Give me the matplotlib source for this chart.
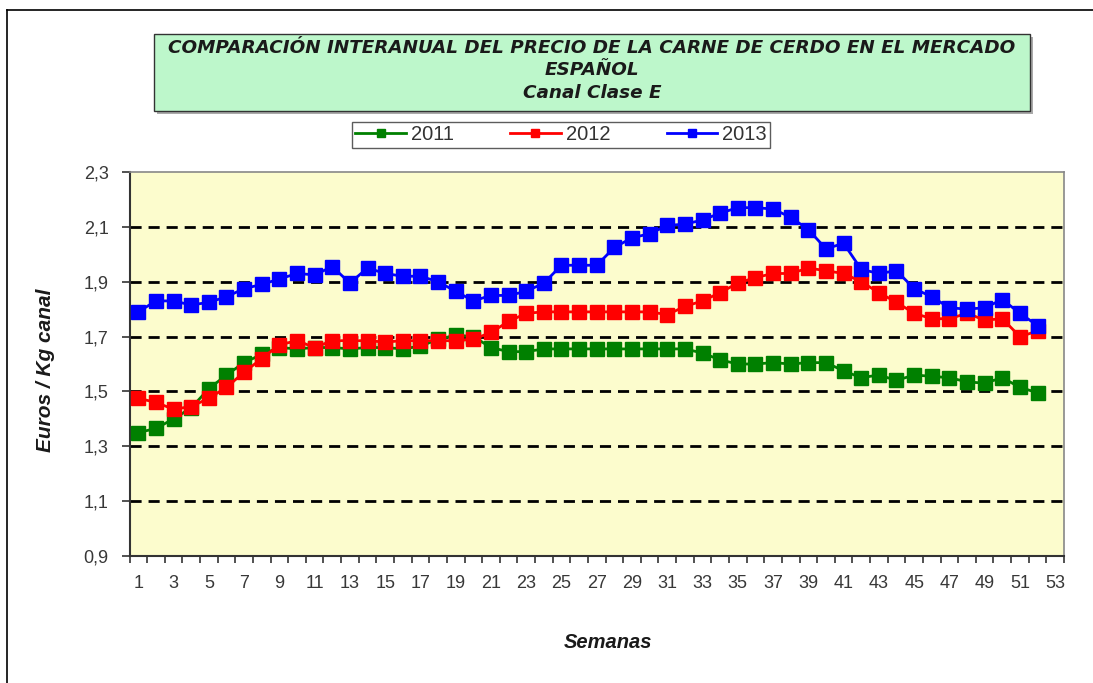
import matplotlib
matplotlib.use("Agg")
import matplotlib.pyplot as plt
from matplotlib.patches import Rectangle
from matplotlib.lines import Line2D

weeks = list(range(1, 53))
y2011 = [1.35, 1.365, 1.40, 1.44, 1.51, 1.56, 1.605, 1.635, 1.66, 1.655,
         1.66, 1.66, 1.655, 1.66, 1.66, 1.655, 1.665, 1.69, 1.705, 1.70,
         1.66, 1.645, 1.645, 1.655, 1.655, 1.655, 1.655, 1.655, 1.655, 1.655,
         1.655, 1.655, 1.64, 1.615, 1.60, 1.60, 1.605, 1.60, 1.605, 1.605,
         1.575, 1.55, 1.56, 1.54, 1.56, 1.555, 1.55, 1.535, 1.53, 1.55,
         1.515, 1.495]
y2012 = [1.475, 1.46, 1.435, 1.445, 1.475, 1.515, 1.57, 1.62, 1.67, 1.685,
         1.66, 1.685, 1.685, 1.685, 1.68, 1.685, 1.685, 1.685, 1.685, 1.69,
         1.715, 1.755, 1.785, 1.79, 1.79, 1.79, 1.79, 1.79, 1.79, 1.79,
         1.78, 1.81, 1.83, 1.86, 1.895, 1.915, 1.93, 1.93, 1.95, 1.94,
         1.93, 1.90, 1.86, 1.825, 1.785, 1.765, 1.765, 1.785, 1.76, 1.765,
         1.70, 1.72]
y2013 = [1.79, 1.83, 1.83, 1.815, 1.825, 1.845, 1.875, 1.89, 1.91, 1.93,
         1.925, 1.955, 1.895, 1.95, 1.93, 1.92, 1.92, 1.90, 1.865, 1.83,
         1.85, 1.85, 1.865, 1.895, 1.96, 1.96, 1.96, 2.025, 2.06, 2.075,
         2.105, 2.11, 2.125, 2.15, 2.17, 2.17, 2.165, 2.135, 2.09, 2.02,
         2.04, 1.945, 1.93, 1.94, 1.875, 1.845, 1.805, 1.80, 1.805, 1.835,
         1.785, 1.74]
series_labels = ["2011", "2012", "2013"]
series_colors = ["#008000", "#FF0000", "#0000FF"]
yticks = [0.9, 1.1, 1.3, 1.5, 1.7, 1.9, 2.1, 2.3]
xtick_labels = [str(i) for i in range(1, 54, 2)]
title_lines = ["COMPARACIÓN INTERANUAL DEL PRECIO DE LA CARNE DE CERDO EN EL MERCADO",
               "ESPAÑOL", "Canal Clase E"]

plt.rcParams['font.family'] = ['Liberation Sans', 'DejaVu Sans']

W, H = 1093, 683
fig = plt.figure(figsize=(W / 100, H / 100), dpi=100)
fig.patch.set_facecolor("white")

def fx(px):
    return px / W

def fy(py):
    return 1 - py / H

# outer frame lines
fig.add_artist(Line2D([fx(7), fx(7)], [fy(10), 0], color="black", lw=1.2, transform=fig.transFigure))
fig.add_artist(Line2D([fx(7), 1], [fy(10), fy(10)], color="black", lw=1.2, transform=fig.transFigure))

ax = fig.add_axes([fx(129.5), fy(556), fx(1064) - fx(129.5), fy(172) - fy(556)])
ax.set_facecolor("#FCFCCD")

for ys, lab, col in zip([y2011, y2012, y2013], series_labels, series_colors):
    ax.plot(weeks, ys, color=col, lw=2, marker="s", markersize=10.5,
            markeredgecolor=col, markerfacecolor=col, label=lab, zorder=3)

ax.set_xlim(0.5, 53.5)
ax.set_ylim(0.9, 2.3)
ax.set_yticks(yticks)
ax.set_yticklabels([f"{v:.1f}".replace(".", ",") for v in yticks])
ax.set_xticks(range(1, 54, 2))
ax.set_xticklabels(xtick_labels)
ax.set_xticks([i + 0.5 for i in range(0, 54)], minor=True)
ax.tick_params(axis="x", which="major", length=0, pad=14, labelsize=13, labelcolor="#383838")
ax.tick_params(axis="x", which="minor", length=5, width=1.2, color="#333333", direction="out")
ax.tick_params(axis="y", which="major", length=6, width=1.2, color="#333333", direction="out",
               labelsize=13, labelcolor="#383838", pad=9)

for v in yticks[1:-1]:
    ax.axhline(v, color="black", lw=2, ls=(0, (4, 2.5)), zorder=1)

for s in ["left", "bottom"]:
    ax.spines[s].set_color("#333333")
    ax.spines[s].set_linewidth(1.5)
for s in ["top", "right"]:
    ax.spines[s].set_color("#888888")
    ax.spines[s].set_linewidth(1.2)

fig.text(fx(46), fy(370), "Euros / Kg canal", rotation=90, ha="center", va="center",
         fontsize=15, fontstyle="italic", fontweight="bold", color="#1a1a1a")
fig.text(fx(608), fy(643), "Semanas", ha="center", va="center",
         fontsize=14.5, fontstyle="italic", fontweight="bold", color="#1a1a1a")

# title box
fig.add_artist(Rectangle((fx(157), fy(114)), fx(1030) - fx(154), fy(34) - fy(111),
                         transform=fig.transFigure, facecolor="#AAAAAA", edgecolor="none", zorder=1))
fig.add_artist(Rectangle((fx(154), fy(111)), fx(1030) - fx(154), fy(34) - fy(111),
                         transform=fig.transFigure, facecolor="#BDF7CB", edgecolor="#333333", lw=1, zorder=2))
for txt, py in zip(title_lines, [48, 70, 93]):
    fig.text(fx(592), fy(py), txt, ha="center", va="center", fontsize=13.2,
             fontstyle="italic", fontweight="bold", color="#1a1a1a", zorder=3,
             family=["DejaVu Sans"])

leg = fig.legend(loc="center", bbox_to_anchor=(fx(561), fy(135)), ncol=3, frameon=True,
                 fancybox=False, edgecolor="#333333", fontsize=14.5, markerscale=0.55,
                 handlelength=2.5, columnspacing=2.8, handletextpad=0.25,
                 borderpad=0.15, borderaxespad=0)
leg.get_frame().set_linewidth(1)
for t in leg.get_texts():
    t.set_color("#333333")

fig.savefig("out.png", dpi=100, facecolor="white")
